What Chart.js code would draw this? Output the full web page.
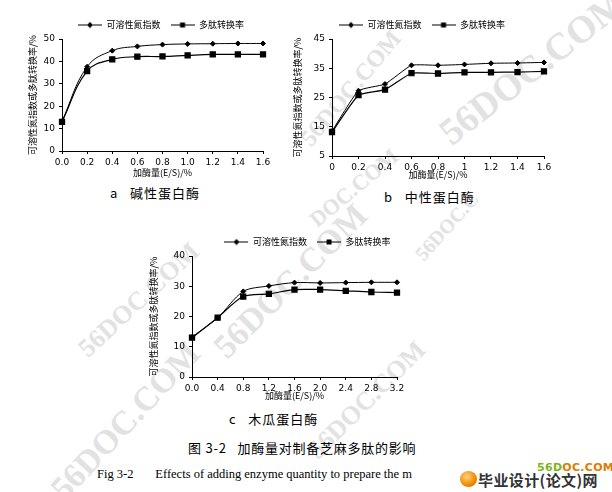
<!DOCTYPE html>
<html lang="zh-CN">
<head>
<meta charset="UTF-8">
<title>加酶量对制备芝麻多肽的影响</title>
<script src="https://cdn.jsdelivr.net/npm/chart.js"></script>
<style>
  body { margin: 0; background: #fff; }
  #page { position: relative; width: 612px; height: 492px; overflow: hidden; background: #fff; }
  .box { position: absolute; }
  .wm {
    position: absolute; color: #e2e2e2; font: bold 32px "Liberation Serif", serif;
    white-space: nowrap; transform-origin: center center;
  }
  .cap { position: absolute; font: 13px "Noto Sans CJK SC", sans-serif; color: #000; white-space: nowrap; letter-spacing: 1px; }
</style>
</head>
<body>
<div id="page">
  <!-- 水印 -->
  <div class="wm" style="left:420px;top:45px;font-size:38px;transform:rotate(-38deg)">56DOC.COM</div>
  <div class="wm" style="left:280px;top:75px;font-size:24px;transform:rotate(-50deg)">56DOC.COM</div>
  <div class="wm" style="left:300px;top:175px;font-size:22px;transform:rotate(-40deg)">DOC.COM</div>
  <div class="wm" style="left:405px;top:215px;font-size:20px;transform:rotate(-48deg)">56DOC.C</div>
  <div class="wm" style="left:190px;top:262px;font-size:34px;transform:rotate(-45deg)">56DOC.COM</div>
  <div class="wm" style="left:62px;top:285px;font-size:26px;transform:rotate(-43deg)">56DOC.COM</div>
  <div class="wm" style="left:25px;top:402px;font-size:34px;transform:rotate(-47deg)">56DOC.COM</div>
  <div class="wm" style="left:290px;top:385px;font-size:26px;transform:rotate(-45deg)">56DOC.COM</div>

  <div class="box" id="boxA" style="left:0px;top:2px;width:290px;height:178px"><canvas id="chartA"></canvas></div>
  <div class="box" id="boxB" style="left:290px;top:2px;width:300px;height:178px"><canvas id="chartB"></canvas></div>
  <div class="box" id="boxC" style="left:130px;top:219px;width:300px;height:184px"><canvas id="chartC"></canvas></div>

  <div class="cap" style="left:110px;top:183px">a&nbsp;&nbsp;&nbsp;碱性蛋白酶</div>
  <div class="cap" style="left:384px;top:187px">b&nbsp;&nbsp;&nbsp;中性蛋白酶</div>
  <div class="cap" style="left:229px;top:409px">c&nbsp;&nbsp;&nbsp;木瓜蛋白酶</div>

  <div class="cap" style="left:188px;top:438px;letter-spacing:0.75px">图 3-2&nbsp;&nbsp;&nbsp;加酶量对制备芝麻多肽的影响</div>
  <div class="cap" style="left:97px;top:467px;font:12.5px 'Liberation Serif', serif;letter-spacing:0">Fig 3-2&nbsp;&nbsp;&nbsp;&nbsp;&nbsp;&nbsp;&nbsp;Effects of adding enzyme quantity to prepare the m</div>

  <!-- 网站标志 -->
  <div style="position:absolute;left:460px;top:471px;width:17px;height:16px;border-radius:50%;background:radial-gradient(circle at 40% 35%, #ffd27a, #f08a00 60%, #c05a00)"></div>
  <div style="position:absolute;left:537px;top:461px;font:bold 11px 'DejaVu Sans', sans-serif;letter-spacing:0.3px;white-space:nowrap"><span style="color:#7ab51d">56D</span><span style="color:#e07b00">OC.COM</span></div>
  <div style="position:absolute;left:478px;top:469px;font:bold 15px 'Noto Sans CJK SC', sans-serif;color:#333;white-space:nowrap;letter-spacing:0.4px">毕业设计(论文)网</div>
</div>

<script>
  // 图 a 碱性蛋白酶
  const doseA = [0, 0.2, 0.4, 0.6, 0.8, 1.0, 1.2, 1.4, 1.6];
  const nsiA = [13.3, 37.6, 44.8, 46.7, 47.5, 47.8, 47.9, 48.0, 48.0];
  const convA = [13.0, 35.7, 40.9, 42.1, 42.2, 42.7, 43.1, 43.1, 43.1];

  // 图 b 中性蛋白酶
  const doseB = [0, 0.2, 0.4, 0.6, 0.8, 1.0, 1.2, 1.4, 1.6];
  const nsiB = [13.5, 27.3, 29.6, 36.0, 36.0, 36.3, 36.7, 36.8, 37.0];
  const convB = [13.2, 25.8, 27.7, 33.3, 33.2, 33.6, 33.6, 33.7, 33.9];

  // 图 c 木瓜蛋白酶
  const doseC = [0, 0.4, 0.8, 1.2, 1.6, 2.0, 2.4, 2.8, 3.2];
  const nsiC = [13.2, 19.6, 28.3, 30.1, 31.2, 31.1, 31.2, 31.3, 31.3];
  const convC = [13.0, 19.6, 26.6, 27.5, 28.9, 28.9, 28.5, 28.1, 27.9];

  const seriesNames = ['可溶性氮指数', '多肽转换率'];
  const yTitle = '可溶性氮指数或多肽转换率/%';
  const xTitle = '加酶量(E/S)/%';

  const tickFont = { family: 'DejaVu Sans', size: 9 };
  const cjkFont = { family: 'Noto Sans CJK SC', size: 9 };

  // 图例图标：带标记的线段
  function legendIcon(kind) {
    const c = document.createElement('canvas');
    c.width = 24; c.height = 8;
    const g = c.getContext('2d');
    g.strokeStyle = '#000'; g.fillStyle = '#000'; g.lineWidth = 1;
    g.beginPath(); g.moveTo(0, 4.5); g.lineTo(24, 4.5); g.stroke();
    if (kind === 'diamond') {
      g.beginPath(); g.moveTo(12, 1.5); g.lineTo(15, 4.5); g.lineTo(12, 7.5); g.lineTo(9, 4.5); g.closePath(); g.fill();
    } else {
      g.fillRect(9.5, 2, 5, 5);
    }
    return c;
  }
  const icons = [legendIcon('diamond'), legendIcon('square')];

  // 把图例整体左右平移（原图图例并不居中）
  const legendShift = {
    id: 'legendShift',
    afterLayout(chart, args, opts) {
      const lg = chart.legend;
      if (lg && opts.dx) { lg.left += opts.dx; lg.right += opts.dx; }
    }
  };

  function toPoints(xs, ys) {
    return xs.map((x, i) => ({ x: x, y: ys[i] }));
  }

  function makeChart(id, cfg) {
    return new Chart(document.getElementById(id), {
      type: 'line',
      data: {
        datasets: [{
          label: seriesNames[0],
          data: toPoints(cfg.xs, cfg.s1),
          borderColor: '#000',
          backgroundColor: '#000',
          borderWidth: 1,
          pointStyle: 'rectRot',
          pointRadius: 2.5,
          tension: cfg.tension,
          clip: 6
        }, {
          label: seriesNames[1],
          data: toPoints(cfg.xs, cfg.s2),
          borderColor: '#000',
          backgroundColor: '#000',
          borderWidth: 1.2,
          pointStyle: 'rect',
          pointRadius: 3.6,
          tension: cfg.tension,
          clip: 6
        }]
      },
      plugins: [legendShift],
      options: {
        responsive: true,
        maintainAspectRatio: false,
        animation: false,
        events: [],
        layout: { padding: cfg.pad },
        plugins: {
          legendShift: { dx: cfg.legendDx },
          legend: {
            display: true,
            position: 'top',
            labels: {
              color: '#000',
              font: cjkFont,
              usePointStyle: true,
              pointStyleWidth: 24,
              padding: 10,
              generateLabels: (chart) => {
                const items = Chart.defaults.plugins.legend.labels.generateLabels(chart);
                items.forEach((it, i) => { it.pointStyle = icons[i]; });
                return items;
              }
            }
          },
          tooltip: { enabled: false }
        },
        scales: {
          x: {
            type: 'linear',
            min: 0,
            max: cfg.xMax,
            afterFit: (s) => { s.height = cfg.xH; },
            border: { color: '#000', width: 1 },
            grid: { drawOnChartArea: false, drawTicks: true, tickLength: 3, color: '#000' },
            ticks: {
              stepSize: cfg.xStep,
              color: '#000',
              font: tickFont,
              padding: 3,
              maxRotation: 0,
              autoSkip: false,
              callback: cfg.xFmt
            },
            title: { display: true, text: xTitle, color: '#000', font: cjkFont, padding: 0 }
          },
          y: {
            min: cfg.yMin,
            max: cfg.yMax,
            afterFit: (s) => { s.width = cfg.yW; },
            border: { color: '#000', width: 1 },
            grid: { drawOnChartArea: false, drawTicks: true, tickLength: 3, color: '#000' },
            ticks: { stepSize: 10, color: '#000', font: tickFont, padding: 4 },
            title: { display: true, text: yTitle, color: '#000', font: cjkFont, padding: 0 }
          }
        }
      }
    });
  }

  const fmt1 = (v) => Number(v).toFixed(1);
  const fmtG = (v) => String(Number(Number(v).toFixed(1)));

  makeChart('chartA', {
    xs: doseA, s1: nsiA, s2: convA, xMax: 1.6, xStep: 0.2, xFmt: fmt1,
    yMin: 0, yMax: 50, tension: 0.4, legendDx: 16,
    pad: { left: 27, right: 27, top: 8, bottom: 2 }, yW: 35, xH: 27
  });
  makeChart('chartB', {
    xs: doseB, s1: nsiB, s2: convB, xMax: 1.6, xStep: 0.2, xFmt: fmtG,
    yMin: 5, yMax: 45, tension: 0.15, legendDx: 4,
    pad: { left: 2, right: 46, top: 8, bottom: 0 }, yW: 40, xH: 24
  });
  makeChart('chartC', {
    xs: doseC, s1: nsiC, s2: convC, xMax: 3.2, xStep: 0.4, xFmt: fmt1,
    yMin: 0, yMax: 40, tension: 0.3, legendDx: 35,
    pad: { left: 18, right: 33, top: 8, bottom: 2 }, yW: 44, xH: 24
  });
</script>
</body>
</html>
